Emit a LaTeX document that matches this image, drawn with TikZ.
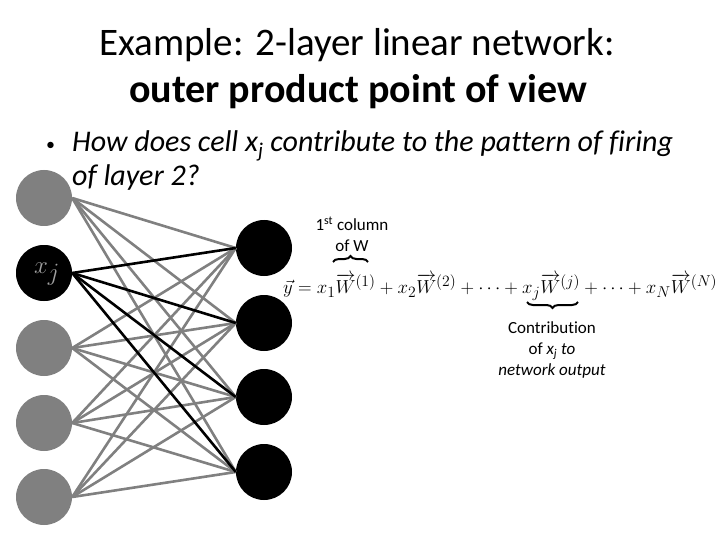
\documentclass[tikz,border=0pt]{standalone}
\usepackage{fontspec}
\setmainfont{Carlito}[Ligatures=NoCommon]
\usepackage{amsmath}
\usetikzlibrary{decorations.pathreplacing}
\definecolor{cellgray}{RGB}{128,128,128}
\definecolor{labelgray}{RGB}{160,160,160}
\tikzset{
    cellin/.style={circle,fill=cellgray,minimum size=56pt,inner sep=0pt},
    cellout/.style={circle,fill=black,minimum size=56pt,inner sep=0pt},
    wire/.style={cellgray,line width=2.6pt},
    boldwire/.style={black,line width=2.6pt},
    bracemark/.style={decorate,decoration={brace,amplitude=6pt},line width=2pt},
    note/.style={align=center,inner sep=0pt,font=\fontsize{17}{21}\selectfont}
}
\begin{document}
\begin{tikzpicture}[x=1pt,y=-1pt]
    \useasboundingbox (0,0) rectangle (720,540);
    % title
    \node (title1) at (357,45) {\fontsize{39}{44}\selectfont Example: 2-layer linear network:};
    \node (title2) at (358,92) {\fontsize{40}{44}\selectfont\bfseries outer product point of view};
    % question
    \node[anchor=west,inner sep=0pt] (dot) at (46,146) {\fontsize{18}{20}\selectfont •};
    \node[anchor=west,inner sep=0pt] (ques1) at (72,146) {\fontsize{30}{32}\selectfont\itshape How does cell x\textsubscript{j} contribute to the pattern of firing};
    \node[anchor=west,inner sep=0pt] (ques2) at (72,178) {\fontsize{30}{32}\selectfont\itshape of layer 2?};
    % layer 1
    \foreach \i/\y in {1/198,2/273,3/348,4/423,5/497}
        \node[cellin] (in\i) at (44,\y) {};
    % layer 2
    \foreach \k/\y in {1/248,2/323,3/397,4/472}
        \node[cellout] (out\k) at (264,\y) {};
    % weights
    \foreach \i in {1,3,4,5}
        \foreach \k in {1,...,4}
            \draw[wire] (in\i.east) -- (out\k.west);
    \foreach \k in {1,...,4}
        \draw[boldwire] (in2.east) -- (out\k.west);
    \node[cellin,fill=black] (xj) at (in2) {};
    \node[xshift=3pt,yshift=-1pt] (xjlabel) at (xj) {\fontsize{36}{36}\selectfont\color{labelgray}$x_j$};
    % outer product sum
    \node[anchor=west,inner sep=0pt] (sum) at (283,287) {\fontsize{19}{22}\selectfont\resizebox{434pt}{!}{%
        $\vec{y} = x_1\overrightarrow{W}^{(1)} + x_2\overrightarrow{W}^{(2)} + \cdots + x_j\overrightarrow{W}^{(j)} + \cdots + x_N\overrightarrow{W}^{(N)}$}};
    \coordinate (b1a) at (333,262);
    \coordinate (b1b) at (368,262);
    \draw[bracemark] (b1a) -- (b1b);
    \node[note] (col1) at (352,234) {1\textsuperscript{st} column\\of W};
    \coordinate (bja) at (578,302);
    \coordinate (bjb) at (527,302);
    \draw[bracemark] (bja) -- (bjb);
    \node[note] (contrib) at (552,350) {Contribution\\of \textit{x\textsubscript{j} to}\\\textit{network output}};
\end{tikzpicture}
\end{document}
